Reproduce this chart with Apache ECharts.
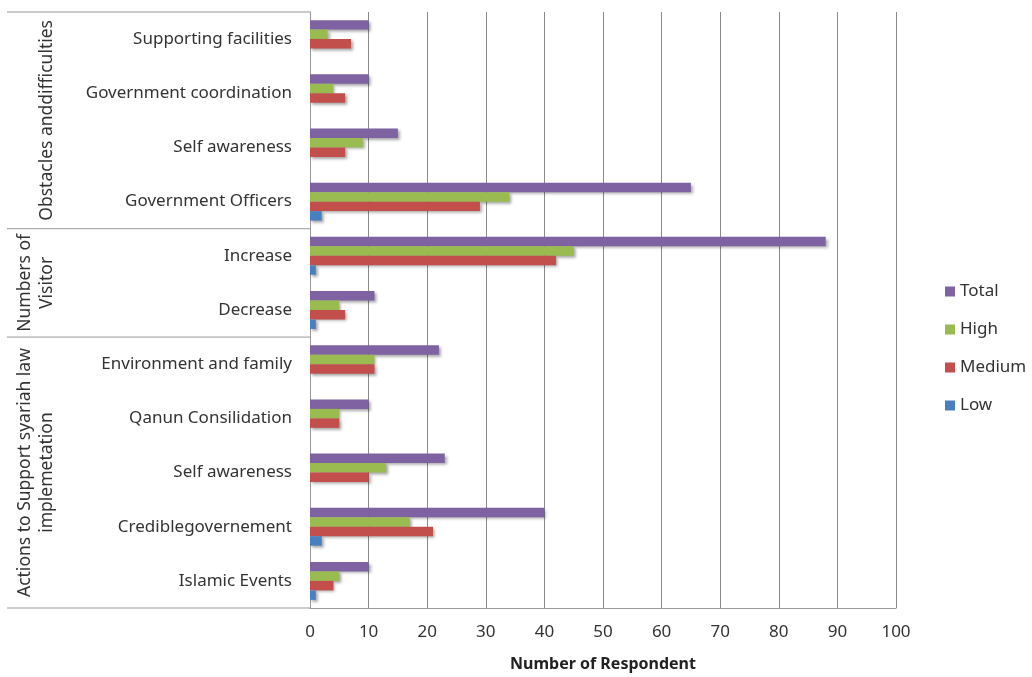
<!DOCTYPE html>
<html><head><meta charset="utf-8">
<script src="https://cdn.jsdelivr.net/npm/echarts@6/dist/echarts.min.js"></script>
<style>html,body{margin:0;padding:0;background:#fff}#c{width:1032px;height:677px}</style>
</head><body><div id="c"></div><script>
const categories = ['Supporting facilities','Government coordination','Self awareness','Government Officers','Increase','Decrease','Environment and family','Qanun Consilidation','Self awareness ','Crediblegovernement','Islamic Events'];
const total  = [10,10,15,65,88,11,22,10,23,40,10];
const high   = [3,4,9,34,45,5,11,5,13,17,5];
const medium = [7,6,6,29,42,6,11,5,10,21,4];
const low    = [0,0,0,2,1,1,0,0,0,2,1];
const xMin = 0, xMax = 100, xStep = 10;
const groups = [
  {label:'Obstacles anddifficulties', size:4},
  {label:'Numbers of\nVisitor', size:2},
  {label:'Actions to Support syariah law\nimplemetation', size:5}
];
const seriesDefs = [
  {name:'Total', data:total, color:'#7f62a1'},
  {name:'High', data:high, color:'#99bb4f'},
  {name:'Medium', data:medium, color:'#c24f4c'},
  {name:'Low', data:low, color:'#4a7fbf'}
];
const FONT = 'Noto Sans';
const chart = echarts.init(document.getElementById('c'));
chart.setOption({
  animation:false,
  textStyle:{fontFamily:FONT},
  grid:{left:310, right:136, top:12, bottom:69},
  legend:{
    orient:'vertical', left:940, top:278, itemWidth:10, itemHeight:10, itemGap:21,
    icon:'rect', data:['Total','High','Medium','Low'],
    textStyle:{fontSize:17, color:'#333', fontFamily:FONT}
  },
  xAxis:{
    type:'value', min:xMin, max:xMax, interval:xStep,
    name:'Number of Respondent', nameLocation:'middle', nameGap:48,
    nameTextStyle:{fontSize:16, fontWeight:'bold', color:'#222', fontFamily:FONT},
    axisLine:{show:true, lineStyle:{color:'#999', width:1}},
    axisTick:{show:false},
    axisLabel:{fontSize:17, color:'#333', margin:16},
    splitLine:{show:true, lineStyle:{color:'#8a8a8a', width:1}}
  },
  yAxis:{
    type:'category', inverse:true, data:categories,
    axisLine:{show:true, lineStyle:{color:'#999', width:1}},
    axisTick:{show:false},
    axisLabel:{fontSize:17, color:'#333', margin:18, formatter: v => v.trim()}
  },
  series: seriesDefs.map(s => ({
    type:'bar', name:s.name, data:s.data,
    barCategoryGap:'30%', barGap:'0%',
    itemStyle:{color:s.color, shadowColor:'rgba(0,0,0,0.35)', shadowBlur:3, shadowOffsetX:2, shadowOffsetY:2}
  }))
});
// group decorations on the left, positioned from the axis scale
function drawGroups(){
  const p0 = chart.convertToPixel({yAxisIndex:0}, 0);
  const p1 = chart.convertToPixel({yAxisIndex:0}, 1);
  const band = p1 - p0;
  const axisX = chart.convertToPixel({xAxisIndex:0}, 0);
  const els = [];
  let idx = 0;
  const top0 = p0 - band/2;
  els.push({type:'line', shape:{x1:7, y1:top0, x2:axisX, y2:top0}, style:{stroke:'#999', lineWidth:1}});
  groups.forEach(g => {
    const yTop = p0 - band/2 + idx*band;
    const yBot = yTop + g.size*band;
    els.push({type:'line', shape:{x1:7, y1:yBot, x2:axisX, y2:yBot}, style:{stroke:'#999', lineWidth:1}});
    els.push({type:'text', x:58, y:(yTop+yBot)/2, rotation:Math.PI/2,
      style:{text:g.label, x:0, y:0, align:'center', verticalAlign:'bottom',
        fontSize:17.5, lineHeight:22, fill:'#333', fontFamily:FONT}});
    idx += g.size;
  });
  chart.setOption({graphic:{elements:els}});
}
drawGroups();
</script></body></html>
